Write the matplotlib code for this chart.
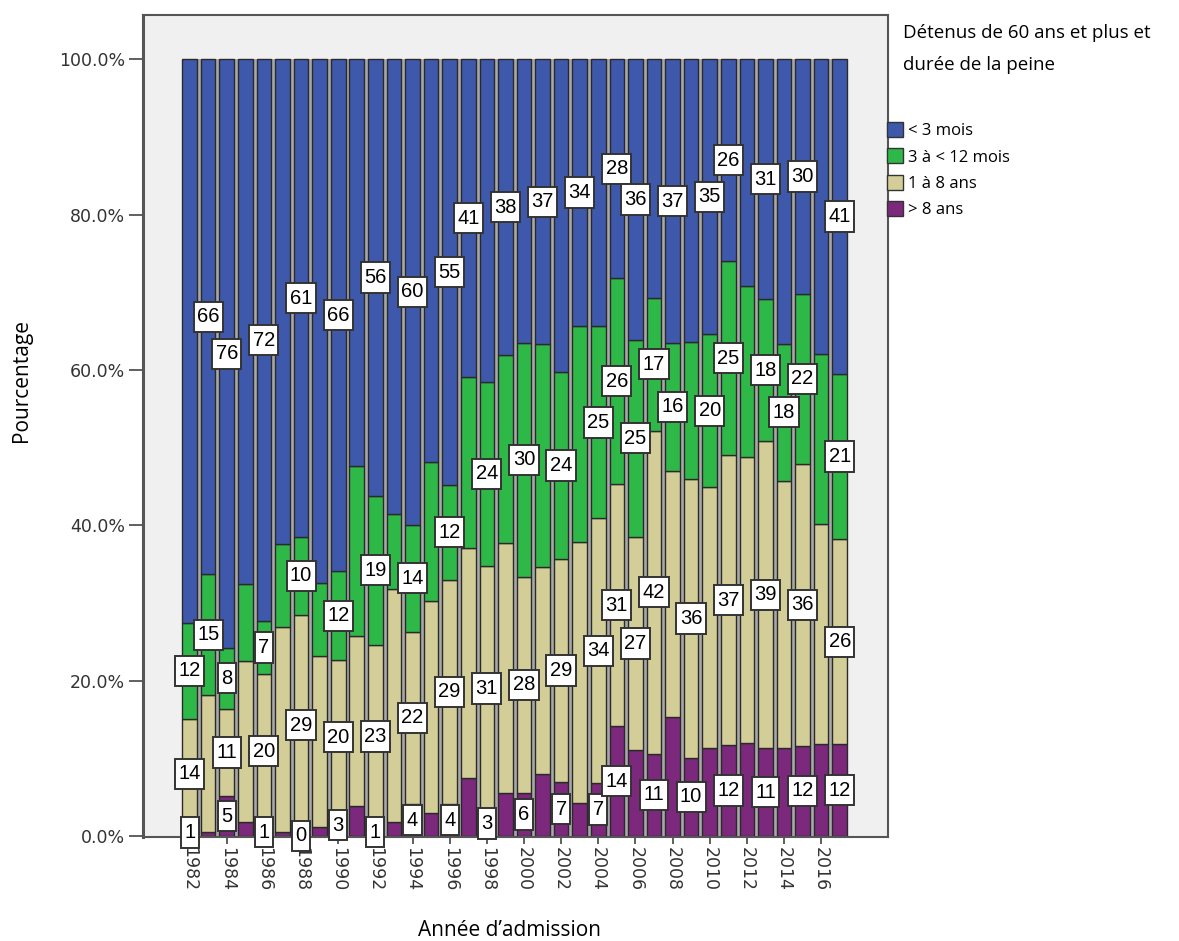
import matplotlib.pyplot as plt
from matplotlib.patches import Patch
from matplotlib.path import Path
import numpy as np

# Years of admission
years = list(range(1982, 2018))

# Percent of each sentence length class per year
p_plus8 = [0.9, 0.5, 5.1, 1.8, 1.0, 0.5, 0.0, 1.2, 2.8, 3.8, 1.0, 1.8, 4.1, 2.9, 4.1, 7.5, 3.2, 5.5,
           5.5, 8.0, 6.9, 4.3, 6.8, 14.1, 11.1, 10.6, 15.3, 10.1, 11.3, 11.7, 12.0, 11.3, 11.3, 11.6, 11.8, 11.8]
p_1to8 = [14.2, 17.6, 11.3, 20.7, 19.8, 26.4, 28.5, 22.0, 19.8, 21.9, 23.6, 30.0, 22.2, 27.4, 28.9, 29.6, 31.6, 32.2,
          27.9, 26.6, 28.8, 33.6, 34.1, 31.2, 27.4, 41.6, 31.7, 35.8, 33.6, 37.3, 36.8, 39.5, 34.4, 36.3, 28.4, 26.4]
p_3to12 = [12.3, 15.6, 7.8, 9.9, 6.9, 10.7, 10.0, 9.4, 11.5, 21.9, 19.2, 9.7, 13.8, 17.8, 12.2, 22.0, 23.7, 24.2,
           30.1, 28.7, 24.0, 27.8, 24.7, 26.5, 25.4, 17.1, 16.5, 17.7, 19.7, 25.0, 22.0, 18.3, 17.7, 21.9, 21.9, 21.3]
p_lt3 = [72.6, 66.3, 75.8, 67.6, 72.3, 62.4, 61.5, 67.4, 65.9, 52.4, 56.2, 58.5, 59.9, 51.9, 54.8, 40.9, 41.5, 38.1,
         36.5, 36.7, 40.3, 34.3, 34.4, 28.2, 36.1, 30.7, 36.5, 36.4, 35.4, 26.0, 29.2, 30.9, 36.6, 30.2, 37.9, 40.5]

# Counts shown in the boxes (only the ones visible on the chart)
n_lt3 = {1983: 66, 1984: 76, 1986: 72, 1988: 61, 1990: 66, 1992: 56, 1994: 60, 1996: 55, 1997: 41, 1999: 38,
         2001: 37, 2003: 34, 2005: 28, 2006: 36, 2008: 37, 2010: 35, 2011: 26, 2013: 31, 2015: 30, 2017: 41}
n_3to12 = {1982: 12, 1983: 15, 1984: 8, 1986: 7, 1988: 10, 1990: 12, 1992: 19, 1994: 14, 1996: 12, 1998: 24,
           2000: 30, 2002: 24, 2004: 25, 2005: 26, 2006: 25, 2007: 17, 2008: 16, 2010: 20, 2011: 25, 2013: 18,
           2014: 18, 2015: 22, 2017: 21}
n_1to8 = {1982: 14, 1984: 11, 1986: 20, 1988: 29, 1990: 20, 1992: 23, 1994: 22, 1996: 29, 1998: 31, 2000: 28,
          2002: 29, 2004: 34, 2005: 31, 2006: 27, 2007: 42, 2009: 36, 2011: 37, 2013: 39, 2015: 36, 2017: 26}
n_plus8 = {1982: 1, 1984: 5, 1986: 1, 1988: 0, 1990: 3, 1992: 1, 1994: 4, 1996: 4, 1998: 3, 2000: 6,
           2002: 7, 2004: 7, 2005: 14, 2007: 11, 2009: 10, 2011: 12, 2013: 11, 2015: 12, 2017: 12}

cats = ['< 3 mois', '3 à < 12 mois', '1 à 8 ans', '> 8 ans']
colors = ['#3E58AC', '#2EB848', '#D3CE97', '#7C287D']


# box a bit taller than wide padding, like the SPSS value labels
def tallbox(x0, y0, width, height, mutation_size):
    px = 0.17 * mutation_size
    py = 0.28 * mutation_size
    x0, y0 = x0 - px, y0 - py
    x1, y1 = x0 + width + 2*px, y0 + height + 2*py
    return Path([(x0, y0), (x1, y0), (x1, y1), (x0, y1), (x0, y0)], closed=True)


fig = plt.figure(figsize=(11.79, 9.41), dpi=100)
fig.patch.set_facecolor('white')
ax = fig.add_axes([143/1179, 1-837/941, (888-143)/1179, (837-15)/941])
ax.set_facecolor('#F0F0F0')

x = np.arange(len(years))
w = 0.786

# gray strip between bars
ax.fill_between([x[0], x[-1]], 0, 100, color='#a8a8a8', zorder=1, lw=0)

series = [(p_plus8, n_plus8, colors[3]), (p_1to8, n_1to8, colors[2]),
          (p_3to12, n_3to12, colors[1]), (p_lt3, n_lt3, colors[0])]
bottom = np.zeros(len(years))
for vals, counts, col in series:
    vals = np.array(vals)
    ax.bar(x, vals, w, bottom=bottom, color=col, edgecolor='#2a2a2a', linewidth=1.0, zorder=2)
    for yr, n in counts.items():
        i = years.index(yr)
        ax.text(x[i], bottom[i] + vals[i]/2, str(n), ha='center', va='center', fontsize=14.5,
                family='Liberation Sans', zorder=5,
                bbox=dict(boxstyle=tallbox, fc='white', ec='#333333', lw=1.4))
    bottom += vals

ax.set_xlim(-2.51, 37.6)
ax.set_ylim(-0.13, 105.7)
ax.set_yticks([0, 20, 40, 60, 80, 100])
ax.set_yticklabels(['%.1f%%' % v for v in [0, 20, 40, 60, 80, 100]], fontsize=12.5, color='#333333')
ax.set_xticks(x[::2])
ax.set_xticklabels([str(y) for y in years[::2]], rotation=-90, fontsize=12.5, color='#333333')
ax.tick_params(axis='y', length=10, width=1.2, color='#444444', pad=3)
ax.tick_params(axis='x', length=5, width=1.2, color='#444444', pad=2)
for s in ax.spines.values():
    s.set_color('#555555')
    s.set_linewidth(1.5)
ax.spines['left'].set_linewidth(2.2)

fig.text(22/1179, 1-380/941, 'Pourcentage', rotation=90, ha='center', va='center', fontsize=15, family='Open Sans')
fig.text(510/1179, 1-930/941, 'Année d’admission', ha='center', va='center', fontsize=15, family='Open Sans')

fig.text(903/1179, 1-24/941, 'Détenus de 60 ans et plus et\ndurée de la peine', ha='left', va='top',
         fontsize=13.5, family='Open Sans', linespacing=2.0)
handles = [Patch(facecolor=c, edgecolor='#333333', lw=1) for c in colors]
fig.legend(handles, cats, loc='upper left', bbox_to_anchor=(887/1179, 1-122/941), frameon=False,
           prop={'family': 'Open Sans', 'size': 12}, handlelength=0.95, handleheight=1.0,
           handletextpad=0.3, labelspacing=0.55, borderpad=0, borderaxespad=0)

fig.savefig('out.png', dpi=100)
